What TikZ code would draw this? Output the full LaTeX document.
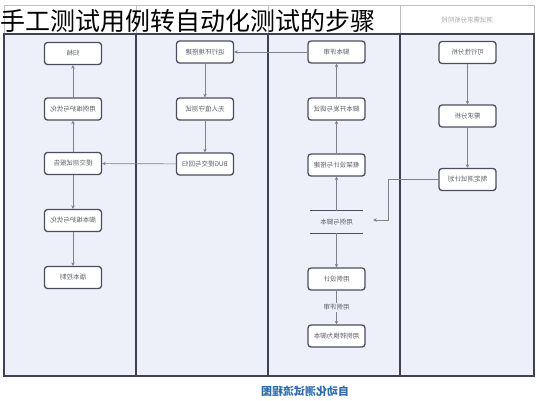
\documentclass[tikz,border=0pt]{standalone}
\usepackage{fontspec}
\usepackage{graphicx}
\newfontfamily\cjk{Noto Sans CJK SC}
\usetikzlibrary{arrows.meta}
\definecolor{bodybg}{HTML}{EDF0F8}
\definecolor{framec}{HTML}{3E4256}
\definecolor{boxline}{HTML}{4A4E60}
\definecolor{conn}{HTML}{7D8192}
\definecolor{txt}{HTML}{5A5E68}
\definecolor{capc}{HTML}{2F6DB0}
\newcommand\mirr[1]{\reflectbox{#1}}
\begin{document}
\begin{tikzpicture}[x=1pt,y=-1pt,
 proc/.style={draw=boxline, line width=1.3pt, fill=white, rounded corners=3pt,
   minimum width=57pt, minimum height=22pt, inner sep=0pt,
   font=\cjk\fontsize{6.5}{7}\selectfont, text=txt},
 flow/.style={draw=conn, line width=0.7pt, -{Stealth[length=3.5pt,width=3.5pt]}},
 plain/.style={draw=conn, line width=0.7pt},
 lbl/.style={font=\cjk\fontsize{6.5}{7}\selectfont, text=txt, inner sep=1pt},
]
\useasboundingbox (0,0) rectangle (537,400);
\fill[white] (0,0) rectangle (537,400);
\fill[bodybg] (4,34) rectangle (534,376);
\draw[gray!50, line width=0.6pt] (4,5) rectangle (534,34);
\foreach \x in {136,268,400} \draw[gray!50, line width=0.6pt] (\x,5) -- (\x,34);
\draw[framec, line width=1.2pt] (4,34) rectangle (534,376);
\foreach \x in {136,268,400} \draw[framec, line width=1.2pt] (\x,34) -- (\x,376);

% header of the right lane
\node[lbl, text=gray!70] (h4) at (467,20) {\mirr{测试需求分析阶段}};

% title
\node[anchor=west, inner sep=0pt, font=\cjk\fontsize{25}{27}\selectfont, text=black] (title) at (0,21) {手工测试用例转自动化测试的步骤};

% lane 1
\node[proc] (b1) at (73,53.5) {\mirr{归档}};
\node[proc] (b2) at (73,109) {\mirr{用例维护与优化}};
\node[proc] (b3) at (73,163.5) {\mirr{提交测试报告}};
\node[proc] (b4) at (73,220.5) {\mirr{脚本维护与优化}};
\node[proc] (b5) at (73,277.5) {\mirr{版本控制}};
% lane 2
\node[proc] (c1) at (205,52) {\mirr{运行环境搭建}};
\node[proc] (c2) at (205,109) {\mirr{无人值守测试}};
\node[proc] (c3) at (205,164) {\mirr{BUG提交与回归}};
% lane 3
\node[proc] (d1) at (336.5,52) {\mirr{脚本评审}};
\node[proc] (d2) at (336.5,109) {\mirr{脚本开发与调试}};
\node[proc] (d3) at (336.5,165) {\mirr{框架设计与搭建}};
\node[lbl, minimum width=53pt, minimum height=22pt, inner sep=0pt] (st) at (336.5,222) {\mirr{用例与脚本}};
\draw[boxline, line width=1.2pt] (st.north west) -- (st.north east);
\draw[boxline, line width=1.2pt] (st.south west) -- (st.south east);
\node[proc] (e1) at (336.5,279) {\mirr{用例设计}};
\node[proc] (e2) at (336.5,336) {\mirr{用例转换为脚本}};
% lane 4
\node[proc] (f1) at (467.5,52.5) {\mirr{可行性分析}};
\node[proc] (f2) at (467.5,116) {\mirr{需求分析}};
\node[proc] (f3) at (467.5,179.5) {\mirr{制定测试计划}};

% connectors
\draw[flow] (b3) -- (b2);
\draw[flow] (b2) -- (b1);
\draw[flow] (b3) -- (b4);
\draw[flow] (b4) -- (b5);
\draw[flow] (c1) -- (c2);
\draw[flow] (c2) -- (c3);
\draw[flow] (c3) -- (b3);
\draw[flow] (d1) -- (c1);
\draw[flow] (st) -- (d3);
\draw[flow] (d3) -- (d2);
\draw[flow] (d2) -- (d1);
\draw[flow] (st) -- (e1);
\draw[flow] (e1) -- (e2) node[midway, lbl, fill=bodybg] (l1) {\mirr{用例评审}};
\draw[flow] (f1) -- (f2);
\draw[flow] (f2) -- (f3);
\coordinate (stin) at ([xshift=10pt,yshift=2pt]st.east);
\coordinate (bend) at (388,179.5);
\draw[flow] (f3.west) -- (bend) |- (stin);

% caption
\node[font=\cjk\bfseries\fontsize{11}{12}\selectfont, text=capc, inner sep=0pt] (cap) at (305,391) {\mirr{自动化测试流程图}};
\end{tikzpicture}
\end{document}
